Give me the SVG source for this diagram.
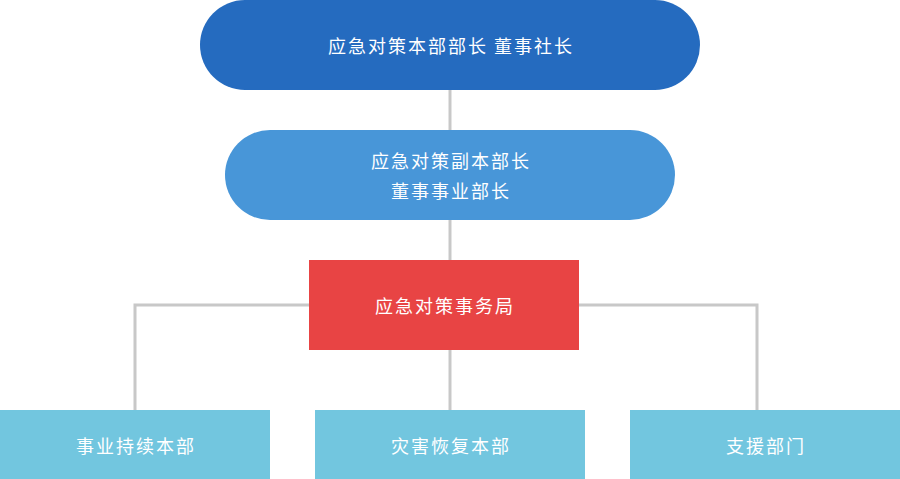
<svg xmlns="http://www.w3.org/2000/svg" width="900" height="479" viewBox="0 0 900 479">
<style>
.t{font-family:"Noto Sans CJK SC","Noto Sans",sans-serif;font-size:18px;fill:#ffffff;text-anchor:middle;letter-spacing:2px;dominant-baseline:central}
.c{stroke:#c8c8c8;stroke-width:3;fill:none}
</style>
<rect width="900" height="479" fill="#ffffff"/>
<g id="connectors">
<line class="c" x1="450" y1="88" x2="450" y2="132"/>
<line class="c" x1="450" y1="218" x2="450" y2="262"/>
<line class="c" x1="450" y1="348" x2="450" y2="412"/>
<polyline class="c" points="311,305 135,305 135,412"/>
<polyline class="c" points="577,305 757,305 757,412"/>
</g>
<g id="n1">
<rect x="200" y="0" width="500" height="90" rx="45" fill="#256bbf"/>
<text class="t" x="451" y="45">应急对策本部部长 董事社长</text>
</g>
<g id="n2">
<rect x="225" y="130" width="450" height="90" rx="45" fill="#4896d8"/>
<text class="t" x="451" y="160">应急对策副本部长</text>
<text class="t" x="451" y="190">董事事业部长</text>
</g>
<g id="n3">
<rect x="309" y="260" width="270" height="90" fill="#e84444"/>
<text class="t" x="445" y="305">应急对策事务局</text>
</g>
<g id="n4">
<rect x="0" y="410" width="270" height="69" fill="#72c6df"/>
<text class="t" x="136" y="445">事业持续本部</text>
</g>
<g id="n5">
<rect x="315" y="410" width="270" height="69" fill="#72c6df"/>
<text class="t" x="451" y="445">灾害恢复本部</text>
</g>
<g id="n6">
<rect x="630" y="410" width="270" height="69" fill="#72c6df"/>
<text class="t" x="766" y="445">支援部门</text>
</g>
</svg>
